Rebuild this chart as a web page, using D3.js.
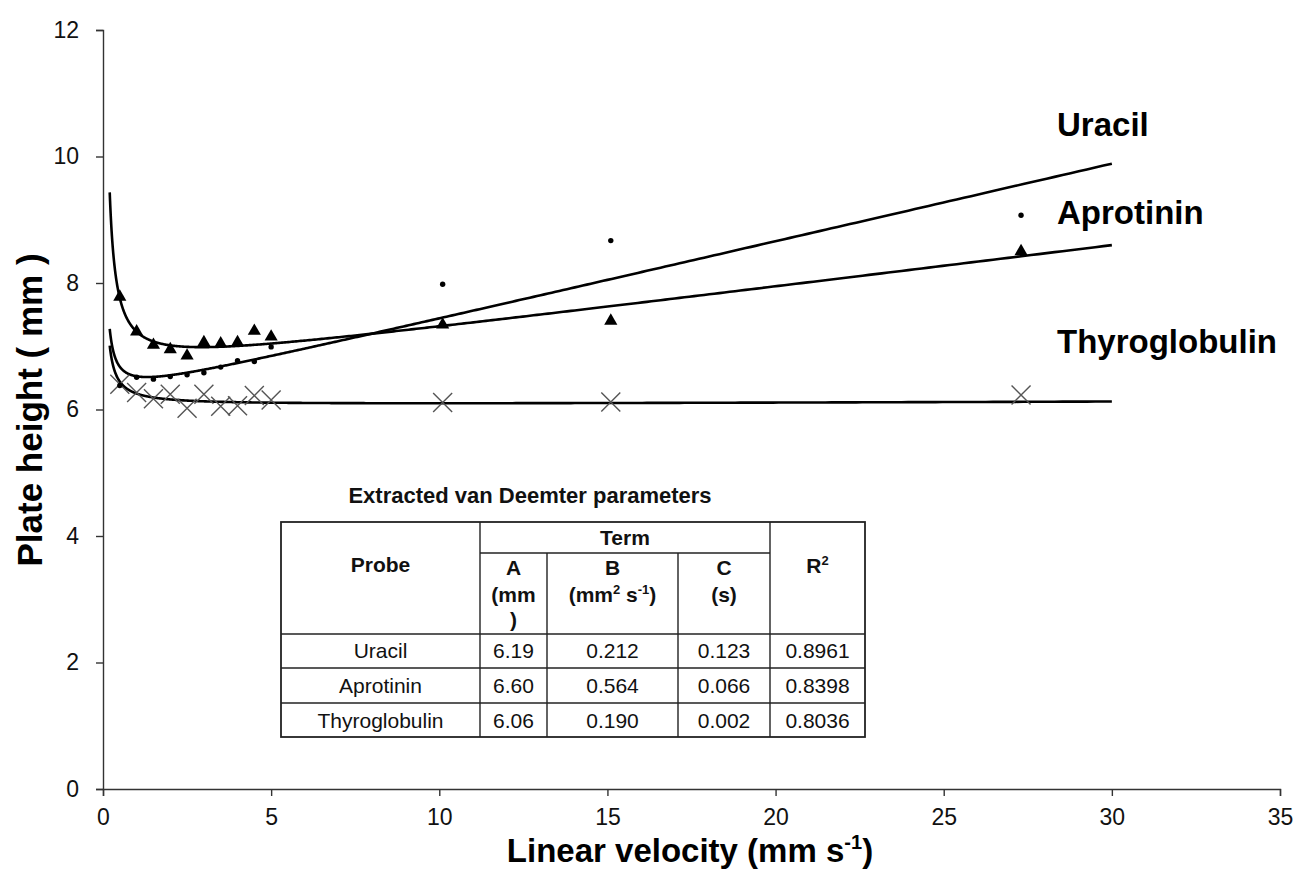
<!DOCTYPE html>
<html><head><meta charset="utf-8">
<script src="https://cdn.jsdelivr.net/npm/d3@7"></script>
<style>body{margin:0;background:#fff}svg{display:block;font-family:"Liberation Sans",Arial,sans-serif}</style>
</head><body><svg id="c" width="1298" height="875"></svg>
<script>
// ---- data ----
const velocity = [0.5,1,1.5,2,2.5,3,3.5,4,4.5,5,10.1,15.1,27.3];
const uracil = [6.38,6.51,6.48,6.52,6.55,6.58,6.67,6.77,6.76,6.99,7.98,8.67,9.07];
const aprotinin = [7.78,7.23,7.02,6.95,6.85,7.06,7.04,7.06,7.24,7.15,7.34,7.40,8.50];
const thyroglobulin = [6.40,6.27,6.17,6.24,6.02,6.24,6.05,6.06,6.22,6.15,6.11,6.12,6.23];
const probes = ["Uracil","Aprotinin","Thyroglobulin"];
const termA = ["6.19","6.60","6.06"];
const termB = ["0.212","0.564","0.190"];
const termC = ["0.123","0.066","0.002"];
const rSquared = ["0.8961","0.8398","0.8036"];
const xTicks = [0,5,10,15,20,25,30,35];
const yTicks = [0,2,4,6,8,10,12];
const fitRange = [0.2,30];

const svg = d3.select("#c");
const x = d3.scaleLinear().domain([0,35]).range([103,1280]);
const y = d3.scaleLinear().domain([0,12]).range([789,30]);
const axisCol = "#333";

// axes
const gx = svg.append("g").attr("transform","translate(0,789)")
  .call(d3.axisBottom(x).tickValues(xTicks).tickSize(7).tickPadding(13));
const gy = svg.append("g").attr("transform","translate(103,0)")
  .call(d3.axisLeft(y).tickValues(yTicks).tickSize(7).tickPadding(17));
[gx,gy].forEach(g=>{
  g.select(".domain").attr("stroke",axisCol).attr("stroke-width",1.4);
  g.selectAll(".tick line").attr("stroke",axisCol).attr("stroke-width",1.4);
  g.selectAll(".tick text").attr("font-size",23).attr("fill","#111").attr("font-family","Liberation Sans, Arial");
});

// fitted van Deemter curves H = A + B/u + C*u (parameters from the table)
const fitLine = d3.line().x(d=>x(d[0])).y(d=>y(d[1]));
probes.forEach((p,i)=>{
  const A=+termA[i], B=+termB[i], C=+termC[i];
  const pts=[];
  const n=600;
  for(let k=0;k<=n;k++){
    const u=fitRange[0]*Math.pow(fitRange[1]/fitRange[0],k/n);
    pts.push([u,A+B/u+C*u]);
  }
  svg.append("path").attr("d",fitLine(pts)).attr("fill","none").attr("stroke","#000").attr("stroke-width",2.6);
});

// markers
svg.append("g").selectAll("path").data(velocity.map((v,i)=>[v,thyroglobulin[i]])).join("path")
  .attr("transform",d=>`translate(${x(d[0])},${y(d[1])})`)
  .attr("d","M-9.5,-9.5L9.5,9.5M-9.5,9.5L9.5,-9.5").attr("stroke","#555").attr("stroke-width",1.4).attr("fill","none");
svg.append("g").selectAll("path").data(velocity.map((v,i)=>[v,aprotinin[i]])).join("path")
  .attr("transform",d=>`translate(${x(d[0])},${y(d[1])})`)
  .attr("d",d3.symbol(d3.symbolTriangle,75)).attr("fill","#000");
svg.append("g").selectAll("circle").data(velocity.map((v,i)=>[v,uracil[i]])).join("circle")
  .attr("cx",d=>x(d[0])).attr("cy",d=>y(d[1])).attr("r",2.7).attr("fill","#000");

// series labels
const lab = [["Uracil",136],["Aprotinin",224],["Thyroglobulin",353]];
lab.forEach(l=>svg.append("text").attr("x",1057).attr("y",l[1]).text(l[0])
  .attr("font-size",33).attr("font-weight","bold").attr("fill","#000"));

// axis titles
const xt = svg.append("text").attr("x",690).attr("y",862).attr("text-anchor","middle")
  .attr("font-size",33).attr("font-weight","bold").attr("fill","#000");
xt.append("tspan").text("Linear velocity (mm s");
xt.append("tspan").text("-1").attr("font-size",20).attr("dy",-13);
xt.append("tspan").text(")").attr("dy",13);
svg.append("text").attr("transform","translate(42,410) rotate(-90)").attr("text-anchor","middle")
  .attr("font-size",35).attr("font-weight","bold").attr("fill","#000").text("Plate height ( mm )");

// table
const T = svg.append("g").attr("font-size",21).attr("fill","#111");
const cols = [281,480,547,678,770,865];
const rows = [522,553,634,668,703,737];
T.append("text").attr("x",530).attr("y",503).attr("text-anchor","middle").attr("font-weight","bold").attr("font-size",22).text("Extracted van Deemter parameters");
const ln=(x1,y1,x2,y2)=>T.append("line").attr("x1",x1).attr("y1",y1).attr("x2",x2).attr("y2",y2).attr("stroke","#222").attr("stroke-width",1.4);
T.append("rect").attr("x",cols[0]).attr("y",rows[0]).attr("width",cols[5]-cols[0]).attr("height",rows[5]-rows[0]).attr("fill","none").attr("stroke","#222").attr("stroke-width",1.8);
ln(cols[1],rows[0],cols[1],rows[5]);
ln(cols[4],rows[0],cols[4],rows[5]);
ln(cols[2],rows[1],cols[2],rows[5]);
ln(cols[3],rows[1],cols[3],rows[5]);
ln(cols[1],rows[1],cols[4],rows[1]);
[2,3,4].forEach(r=>ln(cols[0],rows[r],cols[5],rows[r]));
const mid=(a,b)=>(a+b)/2;
const tx=(xx,yy,t,b)=>T.append("text").attr("x",xx).attr("y",yy).attr("text-anchor","middle").attr("font-weight",b?"bold":"normal").text(t);
tx(mid(cols[1],cols[4]),545,"Term",true);
tx(mid(cols[0],cols[1]),572,"Probe",true);
tx(mid(cols[1],cols[2]),575,"A",true);
tx(mid(cols[1],cols[2]),602,"(mm",true);
tx(mid(cols[1],cols[2]),627,")",true);
tx(mid(cols[2],cols[3]),575,"B",true);
const bt = tx(mid(cols[2],cols[3]),602,"",true);
bt.append("tspan").text("(mm");
bt.append("tspan").text("2").attr("font-size",13).attr("dy",-8);
bt.append("tspan").text(" s").attr("dy",8);
bt.append("tspan").text("-1").attr("font-size",13).attr("dy",-8);
bt.append("tspan").text(")").attr("dy",8);
tx(mid(cols[3],cols[4]),575,"C",true);
tx(mid(cols[3],cols[4]),602,"(s)",true);
const rt = tx(mid(cols[4],cols[5]),573,"",true);
rt.append("tspan").text("R");
rt.append("tspan").text("2").attr("font-size",13).attr("dy",-8);
const baseY=[658,693,728];
probes.forEach((p,i)=>{
  const yy = baseY[i];
  tx(mid(cols[0],cols[1]),yy,p,false);
  tx(mid(cols[1],cols[2]),yy,termA[i],false);
  tx(mid(cols[2],cols[3]),yy,termB[i],false);
  tx(mid(cols[3],cols[4]),yy,termC[i],false);
  tx(mid(cols[4],cols[5]),yy,rSquared[i],false);
});
</script></body></html>
